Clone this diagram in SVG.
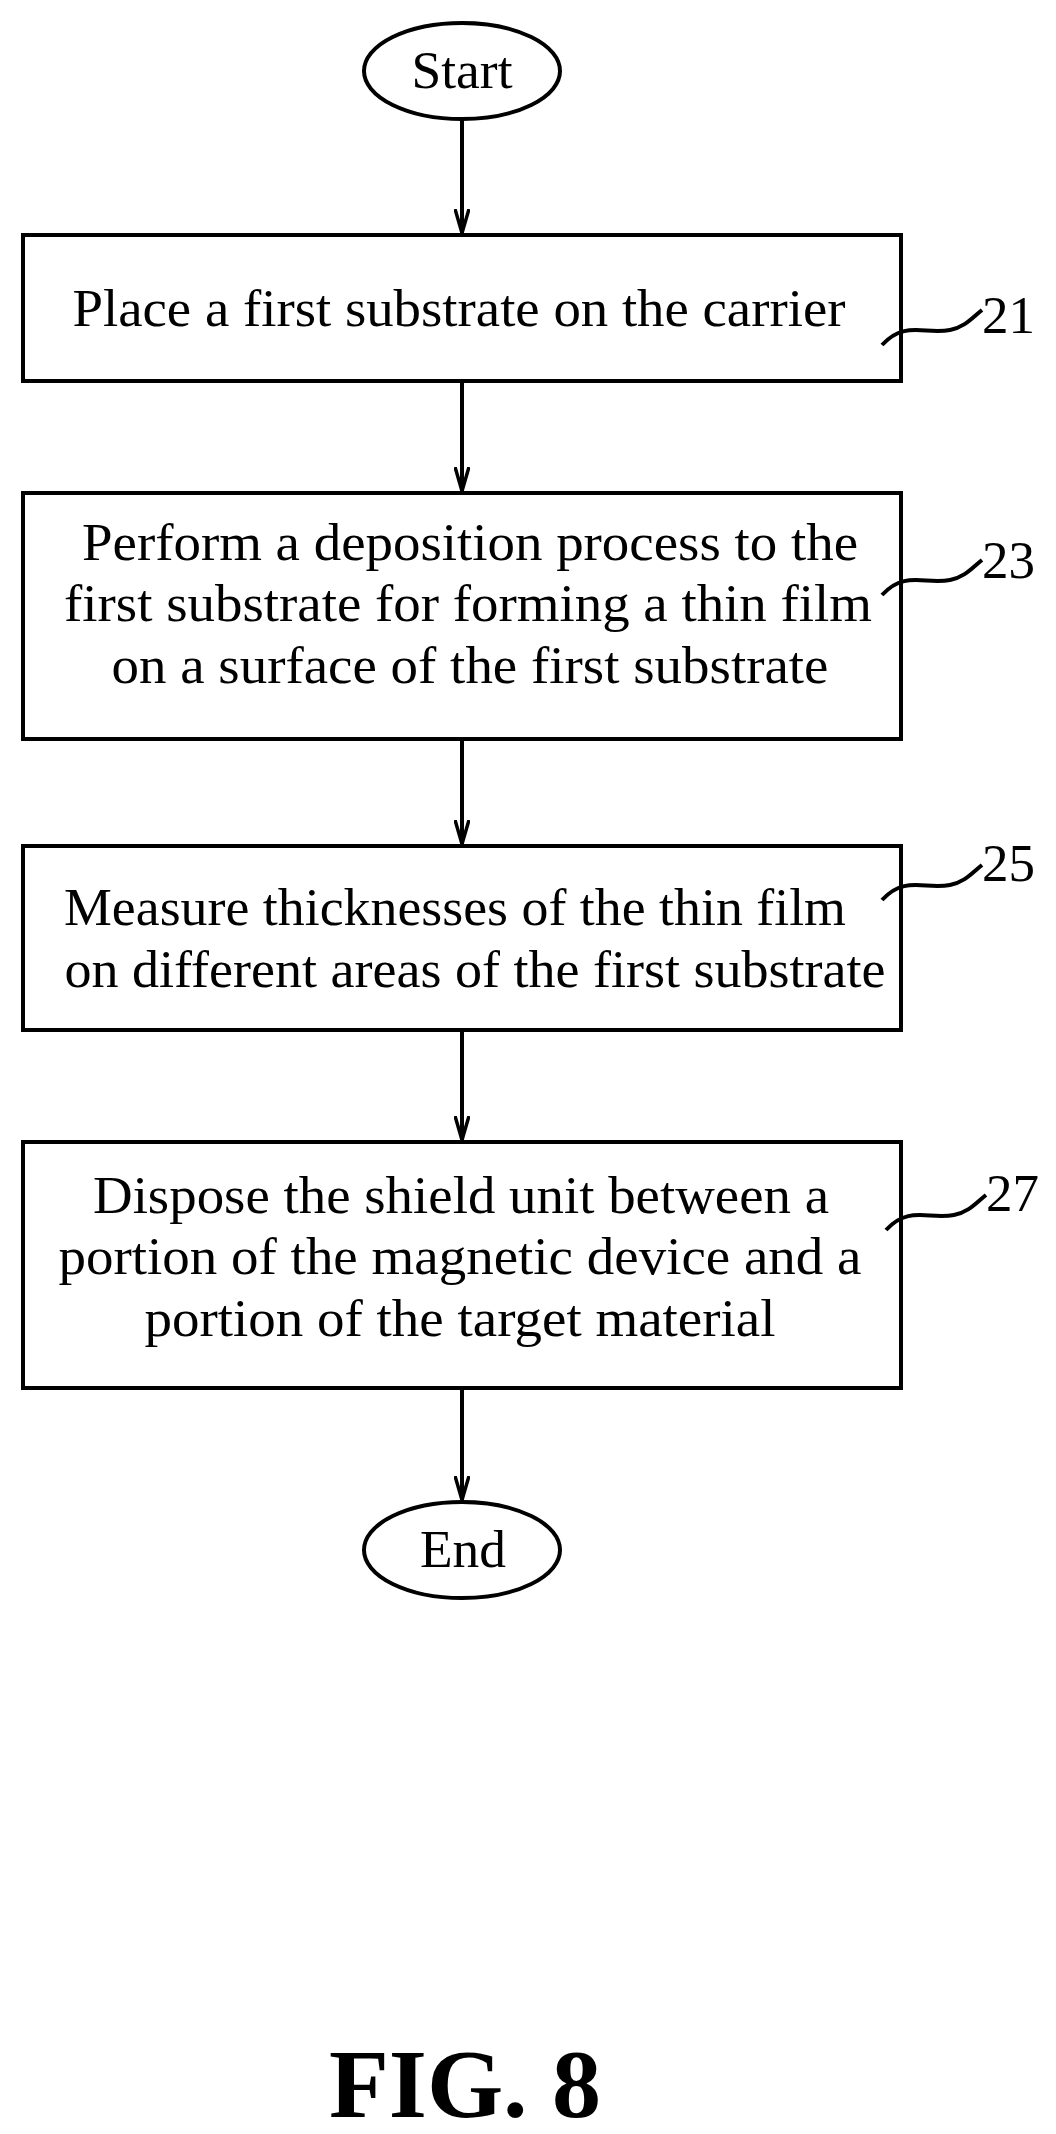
<svg xmlns="http://www.w3.org/2000/svg" width="1056" height="2134" viewBox="0 0 1056 2134">
<style>
.s{fill:none;stroke:#000;stroke-width:4}
.t{font-family:"Liberation Serif",serif;font-size:53px;text-anchor:middle;fill:#000}
.l{font-family:"Liberation Serif",serif;font-size:53px;fill:#000}
</style>
<defs><marker id="a" markerWidth="26" markerHeight="16" refX="24" refY="8" orient="auto" markerUnits="userSpaceOnUse" viewBox="0 0 26 16"><path d="M0,1 L24,8 L0,15" fill="none" stroke="#000" stroke-width="3.5"/></marker></defs>
<rect width="1056" height="2134" fill="#fff"/>
<g id="connectors" class="s">
<line x1="462" y1="119" x2="462" y2="233" marker-end="url(#a)"/>
<line x1="462" y1="381" x2="462" y2="491" marker-end="url(#a)"/>
<line x1="462" y1="739" x2="462" y2="844" marker-end="url(#a)"/>
<line x1="462" y1="1030" x2="462" y2="1140" marker-end="url(#a)"/>
<line x1="462" y1="1388" x2="462" y2="1500" marker-end="url(#a)"/>
<path d="M882,345 C905,320 925,335 950,330 C965,327 972,318 982,310"/>
<path d="M882,595 C905,570 925,585 950,580 C965,577 972,568 982,560"/>
<path d="M882,900 C905,875 925,890 950,885 C965,882 972,873 982,865"/>
<path d="M886,1230 C909,1205 929,1220 954,1215 C969,1212 976,1203 986,1195"/>
</g>
<g id="start"><ellipse class="s" cx="462" cy="71" rx="98" ry="48"/><text class="t" x="462" y="88" textLength="101" lengthAdjust="spacingAndGlyphs">Start</text></g>
<g id="n21"><rect class="s" x="23" y="235" width="878" height="146"/><text class="t" x="459" y="326" textLength="773" lengthAdjust="spacingAndGlyphs">Place a first substrate on the carrier</text><text class="l" x="982" y="333">21</text></g>
<g id="n23"><rect class="s" x="23" y="493" width="878" height="246"/><text class="t" x="470" y="560" textLength="776" lengthAdjust="spacingAndGlyphs">Perform a deposition process to the</text><text class="t" x="468" y="621" textLength="808" lengthAdjust="spacingAndGlyphs">first substrate for forming a thin film</text><text class="t" x="470" y="683" textLength="717" lengthAdjust="spacingAndGlyphs">on a surface of the first substrate</text><text class="l" x="982" y="578">23</text></g>
<g id="n25"><rect class="s" x="23" y="846" width="878" height="184"/><text class="t" x="455" y="925" textLength="782" lengthAdjust="spacingAndGlyphs">Measure thicknesses of the thin film</text><text class="t" x="475" y="987" textLength="821" lengthAdjust="spacingAndGlyphs">on different areas of the first substrate</text><text class="l" x="982" y="881">25</text></g>
<g id="n27"><rect class="s" x="23" y="1142" width="878" height="246"/><text class="t" x="461" y="1213" textLength="736" lengthAdjust="spacingAndGlyphs">Dispose the shield unit between a</text><text class="t" x="460" y="1274" textLength="803" lengthAdjust="spacingAndGlyphs">portion of the magnetic device and a</text><text class="t" x="460" y="1336" textLength="631" lengthAdjust="spacingAndGlyphs">portion of the target material</text><text class="l" x="986" y="1211">27</text></g>
<g id="end"><ellipse class="s" cx="462" cy="1550" rx="98" ry="48"/><text class="t" x="463" y="1567" textLength="86" lengthAdjust="spacingAndGlyphs">End</text></g>
<text x="465" y="2117" font-family="Liberation Serif,serif" font-size="98" font-weight="bold" text-anchor="middle">FIG. 8</text>
</svg>
